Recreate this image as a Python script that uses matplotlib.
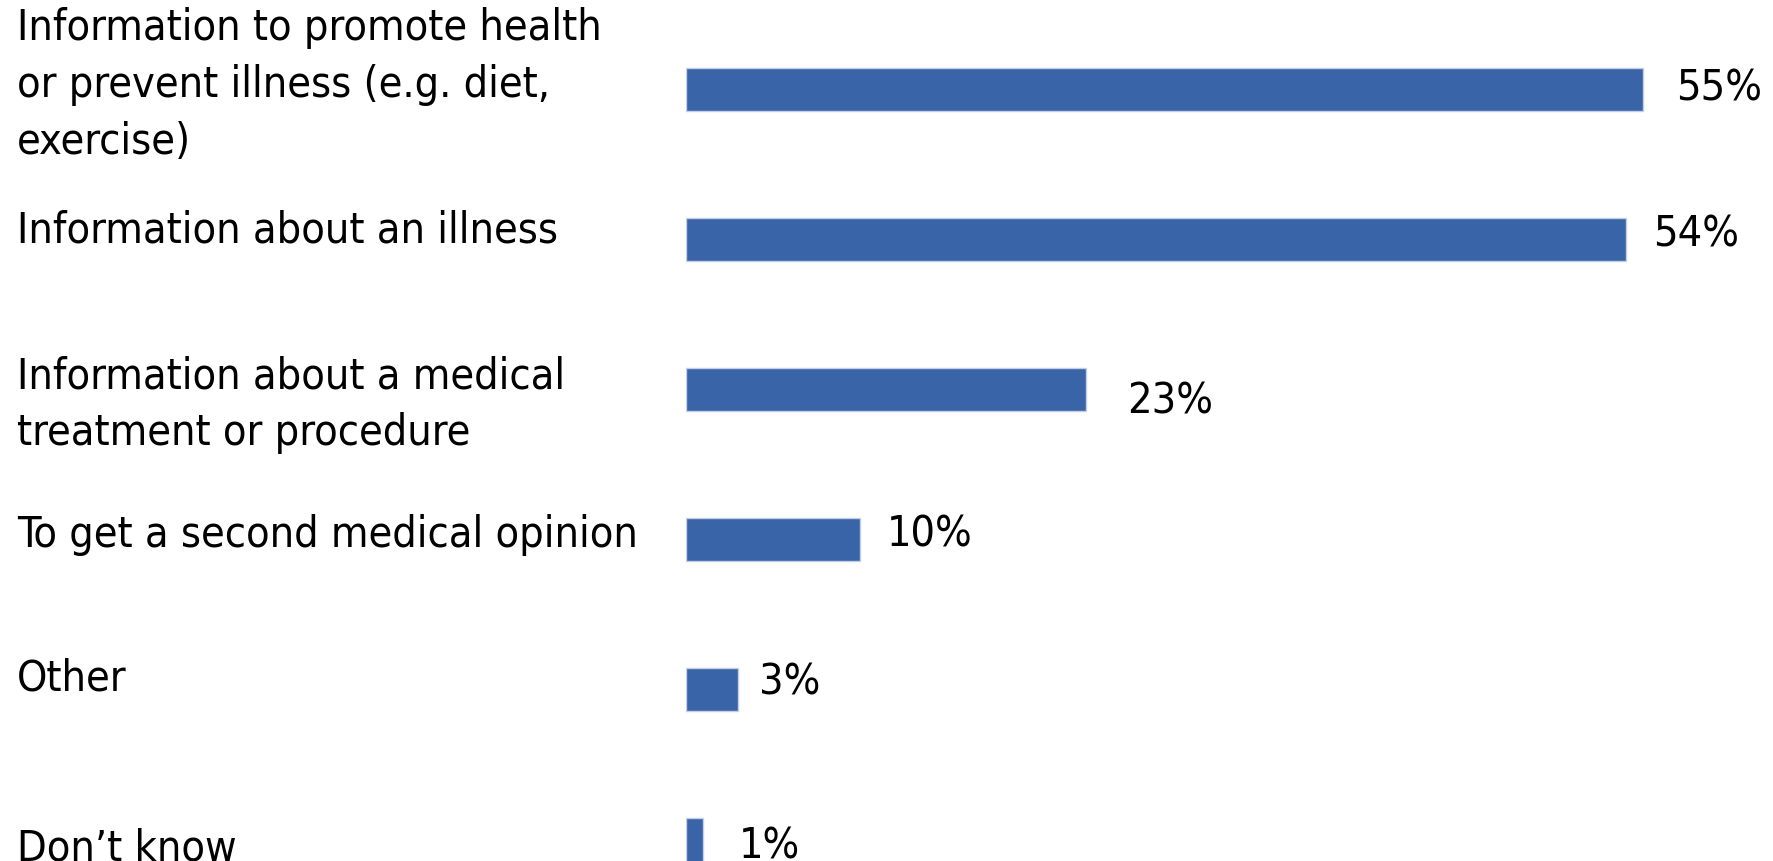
import matplotlib
matplotlib.use("Agg")
import matplotlib.pyplot as plt
from matplotlib import font_manager
from matplotlib.transforms import blended_transform_factory, offset_copy

categories = [
    "Information to promote health\nor prevent illness (e.g. diet,\nexercise)",
    "Information about an illness",
    "Information about a medical\ntreatment or procedure",
    "To get a second medical opinion",
    "Other",
    "Don\u2019t know",
]
shares = [55, 54, 23, 10, 3, 1]

# small nudges (pixels) for the hand-placed text boxes
label_dy = [-5, -10, 14, -6, -12, 8]
value_dx = [33, 27, 41, 27, 21, 35]
value_dy = [-2, -6, 11, -6, -8, 6]

BAR_COLOR = "#3a64a8"


def pick_font():
    # a narrow face sits closest to the original slide text
    try:
        font_manager.findfont(font_manager.FontProperties(family="Liberation Sans Narrow"),
                              fallback_to_default=False)
        return dict(family="Liberation Sans Narrow"), 39
    except ValueError:
        pass
    cond = font_manager.FontProperties(family="DejaVu Sans", stretch="condensed")
    if "Condensed" in font_manager.findfont(cond):
        return dict(family="DejaVu Sans", fontstretch="condensed"), 31
    return dict(family="DejaVu Sans"), 28


def draw():
    font, size = pick_font()

    fig = plt.figure(figsize=(17.74, 8.62), dpi=100)
    W, H = 1774, 862
    ax = fig.add_axes([686 / W, 0, 1044 / W, 1])

    ypos = list(range(len(shares)))
    ax.barh(ypos, shares, height=0.287, color=BAR_COLOR,
            edgecolor="#c3cfe6", linewidth=1.0)
    ax.set_xlim(0, 60)
    ax.set_ylim(5.14, -0.6)
    ax.axis("off")

    label_tr = blended_transform_factory(fig.transFigure, ax.transData)
    for i, text in enumerate(categories):
        tr = offset_copy(label_tr, fig=fig, x=0, y=-label_dy[i], units="dots")
        ax.text(17 / W, ypos[i], text, transform=tr, ha="left", va="center",
                fontsize=size, linespacing=1.45, color="black", clip_on=False,
                **font)

    for i, v in enumerate(shares):
        tr = offset_copy(ax.transData, fig=fig, x=value_dx[i], y=-value_dy[i],
                         units="dots")
        ax.text(v, ypos[i], f"{v}%", transform=tr, ha="left", va="center",
                fontsize=size, color="black", clip_on=False, **font)

    fig.savefig("out.png", dpi=100, facecolor="white")


if __name__ == "__main__":
    draw()
